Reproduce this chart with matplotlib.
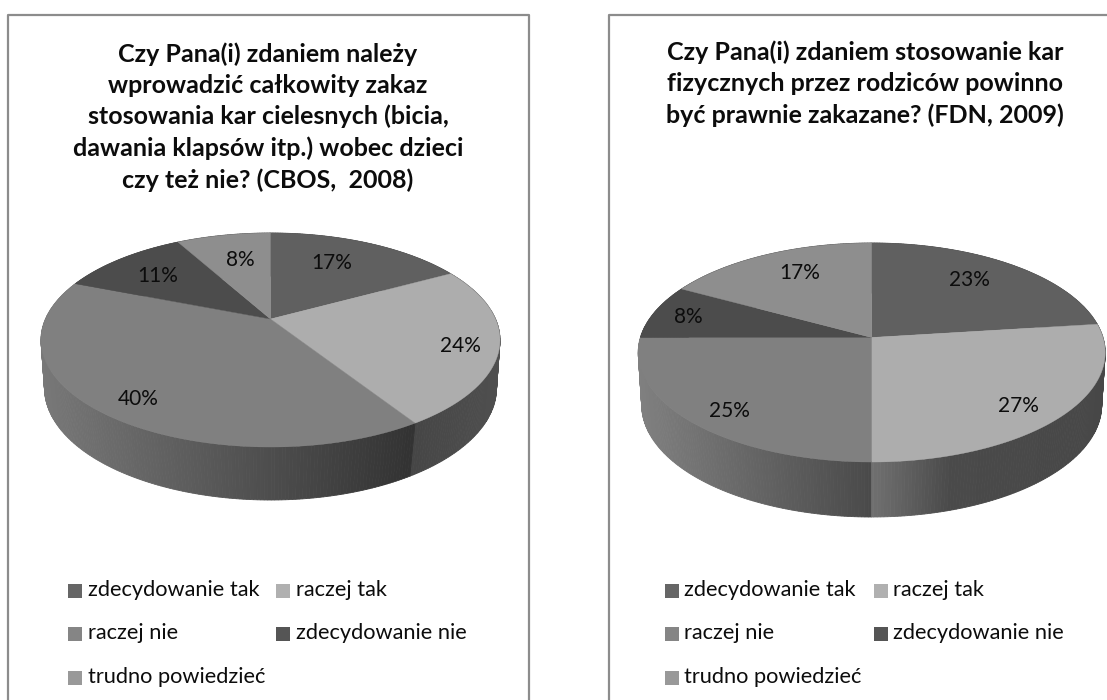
#!/usr/bin/env python3
import numpy as np
import matplotlib
matplotlib.use("Agg")
import matplotlib.pyplot as plt
from matplotlib.patches import Polygon, Rectangle

plt.rcParams["font.family"] = ["Lato", "DejaVu Sans"]

# --- data ---
categories = ["zdecydowanie tak", "raczej tak", "raczej nie",
              "zdecydowanie nie", "trudno powiedzieć"]
cbos_values = [17, 24, 40, 11, 8]
fdn_values = [23, 27, 25, 8, 17]
cbos_title = ("Czy Pana(i) zdaniem należy\nwprowadzić całkowity zakaz\n"
              "stosowania kar cielesnych (bicia,\n"
              "dawania klapsów itp.) wobec dzieci\nczy też nie? (CBOS,  2008)")
fdn_title = ("Czy Pana(i) zdaniem stosowanie kar\n"
             "fizycznych przez rodziców powinno\n"
             "być prawnie zakazane? (FDN, 2009)")

# --- style ---
top_colors = ["#606060", "#adadad", "#808080", "#4c4c4c", "#8e8e8e"]
swatch_colors = ["#666666", "#b0b0b0", "#858585", "#555555", "#999999"]
frame_color = "#8c8c8c"
text_color = "#0c0c0c"


def project(theta, cx, cy, rx, ry, k):
    # disc seen in perspective: centre of the disc lands above the ellipse centre
    u, v = np.sin(theta), np.cos(theta)
    a = rx * np.sqrt(1 - k * k)
    w = 1 + k * v
    return cx + a * u / w, cy - (ry * v + k * ry) / w


def draw_pie(ax, values, top, low, side_shades, label_xy):
    total = sum(values)
    edges = 2 * np.pi * np.cumsum([0] + list(values)) / total

    # side wall, far quads first
    quads = []
    for i in range(len(values)):
        ts = np.arange(edges[i], edges[i + 1], np.radians(0.75))
        ts = np.append(ts, edges[i + 1])
        xs, grays = side_shades[i]
        for t0, t1 in zip(ts[:-1], ts[1:]):
            x0, y0 = project(t0, *top)
            x1, y1 = project(t1, *top)
            x2, y2 = project(t1, *low)
            x3, y3 = project(t0, *low)
            g = float(np.interp((x0 + x1 + x2 + x3) / 4, xs, grays))
            quads.append((np.cos((t0 + t1) / 2),
                          [(x0, y0), (x1, y1), (x2, y2), (x3, y3)], g))
    quads.sort(key=lambda q: -q[0])
    for _, pts, g in quads:
        ax.add_patch(Polygon(pts, closed=True, facecolor=str(g),
                             edgecolor=str(g), lw=0.6))

    # top face
    apex = (top[0], top[1] - top[4] * top[3])
    for i in range(len(values)):
        ts = np.linspace(edges[i], edges[i + 1], 200)
        xs, ys = project(ts, *top)
        pts = [apex] + list(zip(xs, ys))
        ax.add_patch(Polygon(pts, closed=True, facecolor=top_colors[i],
                             edgecolor=top_colors[i], lw=0.3))

    for v, (x, y) in zip(values, label_xy):
        ax.text(x, y, f"{v}%", ha="center", va="center", fontsize=15,
                color=text_color)


def draw_legend(ax, sw_cols, text_cols, rows):
    slots = [(0, 0), (1, 0), (0, 1), (1, 1), (0, 2)]
    for i, (c, r) in enumerate(slots):
        ax.add_patch(Rectangle((sw_cols[c], rows[r] - 7), 14, 14,
                               facecolor=swatch_colors[i], edgecolor="none"))
        ax.text(text_cols[c], rows[r] - 1, categories[i], ha="left",
                va="center", fontsize=15.7, color=text_color)


def main():
    fig = plt.figure(figsize=(11.07, 7.0), dpi=100)
    ax = fig.add_axes([0, 0, 1, 1])
    ax.set_xlim(0, 1107)
    ax.set_ylim(700, 0)
    ax.axis("off")

    # frames, cut off by the bottom and right side of the picture
    ax.plot([7.5, 7.5, 529, 529], [700, 15, 15, 700], color=frame_color, lw=1.6)
    ax.plot([609, 609, 1107], [700, 15, 15], color=frame_color, lw=1.6)

    # titles
    ax.text(268, 117, cbos_title, ha="center", va="center", fontsize=18,
            fontweight="bold", linespacing=1.42, color=text_color)
    ax.text(865, 84, fdn_title, ha="center", va="center", fontsize=18,
            fontweight="bold", linespacing=1.42, color=text_color)

    # pies
    draw_pie(ax, cbos_values,
             top=(270.5, 340, 229.5, 107, 0.196),
             low=(270.5, 388, 226, 112, 0.17),
             side_shades=[([0, 1], [0.3, 0.3]),
                          ([405, 500], [0.27, 0.31]),
                          ([45, 408], [0.47, 0.2]),
                          ([0, 1], [0.3, 0.3]),
                          ([0, 1], [0.3, 0.3])],
             label_xy=[(332, 263), (460, 346), (138, 399), (158, 276), (240, 260)])
    draw_pie(ax, fdn_values,
             top=(871.7, 352.5, 233.5, 109.5, 0.137),
             low=(871.7, 405, 230, 112, 0.12),
             side_shades=[([0, 1], [0.3, 0.3]),
                          ([872, 950, 1100], [0.44, 0.29, 0.28]),
                          ([643, 871], [0.5, 0.29]),
                          ([0, 1], [0.3, 0.3]),
                          ([0, 1], [0.3, 0.3])],
             label_xy=[(969, 280), (1018, 406), (729, 411), (688, 317), (800, 273)])

    # legends
    rows = [591, 634, 678]
    draw_legend(ax, [68, 276], [87.5, 296], rows)
    draw_legend(ax, [664.5, 873.5], [684, 893], rows)

    fig.savefig("out.png", dpi=100)
    plt.close(fig)


if __name__ == "__main__":
    main()
